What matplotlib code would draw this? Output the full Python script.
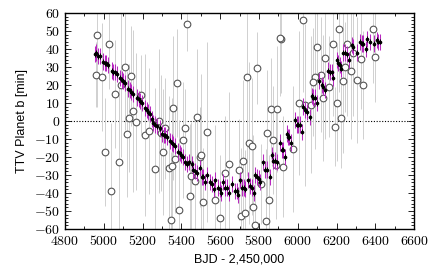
"""TTV of planet b: Kepler-style fit (black/magenta) against ground-based timings (grey circles)."""
import matplotlib
matplotlib.use("Agg")
import matplotlib.pyplot as plt
from matplotlib.ticker import MultipleLocator, FuncFormatter

plt.rcParams["mathtext.fontset"] = "cm"

# precise timings (black points with magenta bars)
fit_x = [4955, 4962, 4970, 4980, 4996, 5005, 5013, 5022, 5042, 5050, 5059, 5068,
         5084, 5093, 5101, 5110, 5125, 5134, 5142, 5151, 5171, 5180, 5188, 5197,
         5213, 5221, 5230, 5238, 5249, 5254, 5263, 5272, 5290, 5300, 5309, 5317,
         5326, 5341, 5350, 5358, 5367, 5383, 5391, 5400, 5408, 5419, 5428, 5437,
         5455, 5460, 5469, 5478, 5496, 5506, 5514, 5522, 5532, 5548, 5557, 5566,
         5574, 5589, 5598, 5606, 5615, 5625, 5634, 5643, 5661, 5677, 5686, 5694,
         5702, 5713, 5722, 5730, 5744, 5754, 5763, 5772, 5780, 5790, 5798, 5806,
         5821, 5831, 5842, 5857, 5867, 5872, 5883, 5893, 5909, 5919, 5924, 5935,
         5945, 5950, 5955, 5966, 5986, 5996, 6002, 6012, 6022, 6027, 6038, 6048,
         6063, 6074, 6079, 6089, 6100, 6110, 6125, 6130, 6141, 6156, 6167, 6177,
         6182, 6203, 6208, 6218, 6224, 6234, 6244, 6254, 6265, 6280, 6285, 6306,
         6321, 6332, 6337, 6352, 6357, 6373, 6394, 6409, 6414, 6425]
fit_y = [37, 38, 36, 36, 33, 32, 32, 31, 28, 27, 27, 26,
         24, 23, 22, 21, 18, 17, 16, 15, 13, 12, 11, 10,
         7, 6, 5, 4, 1, -1, -2, -3, -4, -7, -8, -8,
         -9, -11, -12, -13, -14, -17, -18, -19, -20, -23, -24, -23,
         -24, -27, -28, -29, -26, -31, -31, -34, -30, -34, -35, -38,
         -33, -37, -38, -40, -34, -37, -37, -40, -35, -39, -39, -41,
         -33, -37, -37, -38, -33, -36, -37, -40, -30, -31, -32, -34,
         -23, -27, -27, -31, -19, -22, -22, -23, -12, -16, -16, -20,
         -7, -9, -9, -12, 0.6, -2, -2, -2, -6, 8, 6, 5,
         2, 14, 13, 13, 10, 22, 20, 19, 17, 28, 27, 27,
         24, 34, 32, 31, 29, 38, 38, 37, 34, 42, 41, 38,
         44, 43, 43, 40, 45.6, 44, 43, 45, 44, 44]

# ground-based timings (grey open circles)
obs_x = [4965, 4960, 4990, 5027, 5060, 5110, 5141, 5089, 5192, 5151, 5130, 5166,
         5120, 5006, 5078, 5037, 5213, 5233, 5285, 5295, 5316, 5305, 5264, 5336,
         5367, 5388, 5346, 5408, 5444, 5450, 5470, 5496, 5502, 5512, 5574, 5532,
         5600, 5429, 5377, 5357, 5481, 5419, 5739, 5790, 5862, 5893, 5914, 5646,
         5625, 5697, 5718, 5708, 5728, 5770, 5780, 5749, 5764, 5842, 5852, 5837,
         5888, 5924, 5811, 5873, 5976, 5352, 6027, 5909, 6213, 6100, 6182, 6141,
         6389, 6399, 6254, 6285, 6326, 6120, 6089, 6079, 6275, 6244, 6306, 6337,
         6162, 6234, 6203, 6007, 6038, 6068, 6130, 6224, 6193]
obs_y = [48, 25.6, 24.6, 43, 15, 30, 25, 20, 14.4, 5.6, 1.5, -0.5,
         -7, -17, -23, -39, -7.6, -5.5, 0, -6.7, -4, -17, -26.7, -26,
         -21, -49.6, -55, -10.6, -41.7, -30.6, -33.3, -20, -19, -45, -44, -6,
         -54, 54, 21, 7, 2.2, -4, 24.4, 29.4, 6.7, 6.7, 45.5, -24,
         -29, -27, -22, -52.8, -51, -48, -58, -12, -14, -6.7, -44, -55.6,
         -24.4, -25.5, -35, -10.6, -15.6, -25, 56, 46, 51, 41, 42.8, 35,
         51, 35.6, 43, 38, 34.6, 25.6, 24.5, 21.7, 28, 30, 23, 20,
         19, 22, 10, 10, 9, 9, 13, 1.7, -3.3]
obs_err = [40, 18, 30, 25, 30, 35, 28, 40, 22, 45, 30, 38,
           35, 30, 42, 38, 45, 35, 40, 32, 28, 35, 45, 40,
           30, 50, 38, 32, 40, 30, 35, 28, 45, 30, 42, 50,
           35, 15, 30, 40, 38, 22, 55, 20, 28, 35, 30, 40,
           32, 28, 45, 38, 35, 40, 30, 45, 38, 35, 25, 40,
           30, 28, 22, 30, 35, 38, 40, 32, 35, 28, 40, 45,
           30, 25, 40, 35, 28, 32, 40, 30, 38, 25, 35, 30,
           28, 40, 32, 40, 45, 38, 35, 28, 22]

fig = plt.figure(figsize=(4.36, 2.69), dpi=100)
ax = fig.add_axes([0.149, 0.149, 0.801, 0.803])

ax.errorbar(obs_x, obs_y, yerr=obs_err, fmt="o", ms=4.8, mfc="white",
            mec="#555555", mew=0.8, ecolor="#d0d0d0", elinewidth=0.7,
            capsize=0, zorder=2)
ax.axhline(0, color="black", ls=(0, (1, 1.5)), lw=0.8, zorder=1)
ax.errorbar(fit_x, fit_y, yerr=4.5, fmt="none", ecolor="#b828c0",
            elinewidth=0.75, capsize=0, zorder=3)
ax.errorbar(fit_x, fit_y, yerr=1.5, xerr=3, fmt="o", ms=1.6, color="black",
            elinewidth=0.7, capsize=0, zorder=4)

ax.set_xlim(4800, 6600)
ax.set_ylim(-60, 60)
ax.xaxis.set_major_locator(MultipleLocator(200))
ax.xaxis.set_minor_locator(MultipleLocator(100))
ax.yaxis.set_major_locator(MultipleLocator(10))
ax.yaxis.set_minor_locator(MultipleLocator(2))
fmt = FuncFormatter(lambda v, _: f"${v:.0f}$")
ax.xaxis.set_major_formatter(fmt)
ax.yaxis.set_major_formatter(fmt)
ax.tick_params(which="both", direction="in", top=True, right=True,
               labelsize=10, width=0.6)
ax.tick_params(which="major", length=4)
ax.tick_params(which="minor", length=2)
for s in ax.spines.values():
    s.set_linewidth(1.0)

ax.set_xlabel("BJD - 2,450,000", family="Liberation Sans", fontsize=9)
ax.set_ylabel("TTV Planet b [min]", family="Liberation Sans", fontsize=9)

fig.savefig("out.png", dpi=100)
